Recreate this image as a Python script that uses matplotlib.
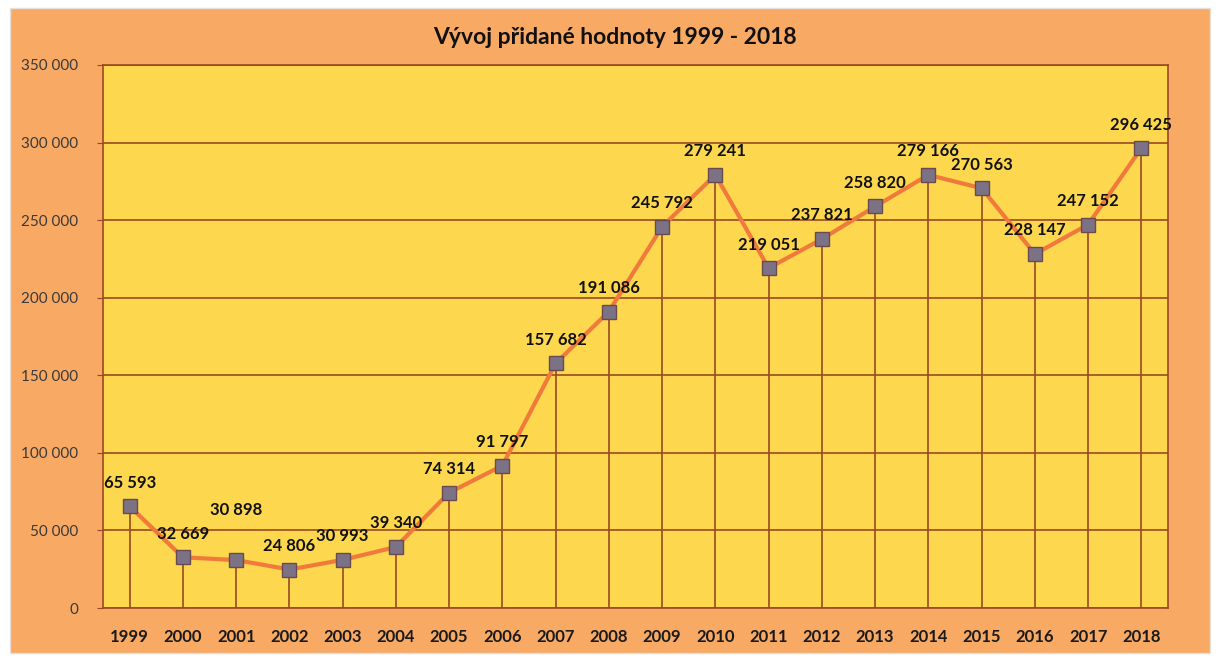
import matplotlib.pyplot as plt
from matplotlib.patches import Rectangle
from matplotlib.ticker import FuncFormatter

plt.rcParams['font.family'] = ['Lato', 'DejaVu Sans']

# Data
years = ['1999', '2000', '2001', '2002', '2003', '2004', '2005', '2006', '2007', '2008',
         '2009', '2010', '2011', '2012', '2013', '2014', '2015', '2016', '2017', '2018']
values = [65593, 32669, 30898, 24806, 30993, 39340, 74314, 91797, 157682, 191086,
          245792, 279241, 219051, 237821, 258820, 279166, 270563, 228147, 247152, 296425]
title = 'Vývoj přidané hodnoty 1999 - 2018'

bg_orange = '#F8A964'
plot_yellow = '#FDD84E'
grid_brown = '#9A4A22'
line_orange = '#F07A3C'
marker_grey = '#7B7285'

fig = plt.figure(figsize=(12.16, 6.61), dpi=100)
fig.patch.set_facecolor('white')
fig.patches.append(Rectangle((10 / 1216, 1 - 653 / 661), 1200 / 1216, 645 / 661,
                             transform=fig.transFigure, facecolor=bg_orange,
                             edgecolor='#E8E0D8', linewidth=1, zorder=-10))

ax = fig.add_axes([103 / 1216, 1 - 608 / 661, 1065 / 1216, 543 / 661])
ax.set_facecolor(plot_yellow)

x = list(range(len(years)))

# drop lines from each point down to zero
ax.vlines(x, 0, values, color=grid_brown, linewidth=1.2, zorder=2)
ax.plot(x, values, color=line_orange, linewidth=3, zorder=3)
ax.plot(x, values, linestyle='none', marker='s', markersize=10,
        markerfacecolor=marker_grey, markeredgecolor='#6A4A50', markeredgewidth=1, zorder=4)

# value labels above points (2001 sits higher in the original)
extra_offset = {2: 19}
for i, v in enumerate(values):
    label = f'{v:,}'.replace(',', ' ')
    ax.annotate(label, (i, v), xytext=(0, 17 + extra_offset.get(i, 0)),
                textcoords='offset points', ha='center', va='center',
                fontsize=12, fontweight='bold', color='#111111', zorder=5)

ax.set_xlim(-0.5, len(years) - 0.5)
ax.set_ylim(0, 350000)
ax.set_yticks(range(0, 350001, 50000))
ax.yaxis.set_major_formatter(FuncFormatter(lambda v, p: f'{int(v):,}'.replace(',', ' ')))
ax.set_xticks(x)
ax.set_xticklabels(years, fontweight='bold')
ax.grid(axis='y', color=grid_brown, linewidth=1.2)
ax.set_axisbelow(True)

ax.tick_params(axis='y', length=4, color=grid_brown, labelsize=11, labelcolor='#3A3A3A', pad=14)
ax.tick_params(axis='x', length=0, labelsize=12, labelcolor='#1A1A1A', pad=15)
for s in ax.spines.values():
    s.set_color(grid_brown)
    s.set_linewidth(1.2)

fig.text(0.506, 1 - 38 / 661, title, ha='center', va='center',
         fontsize=16.5, fontweight='bold', color='#111111')

plt.savefig('out.png', dpi=100, facecolor=fig.get_facecolor())
plt.close()
